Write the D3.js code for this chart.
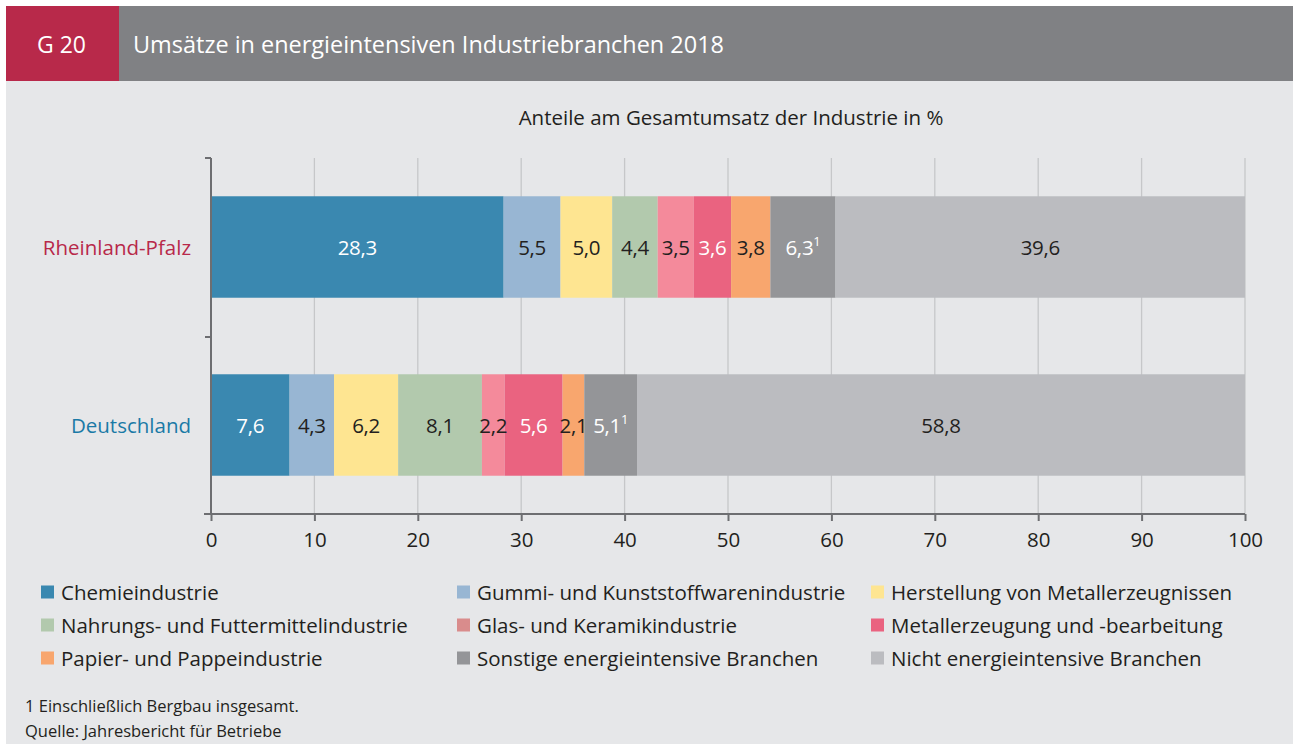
<!DOCTYPE html>
<html>
<head>
<meta charset="utf-8">
<script src="https://cdn.jsdelivr.net/npm/d3@7"></script>
<style>
  body { margin: 0; background: #fff; }
  svg { display: block; font-family: "Open Sans", sans-serif; }
</style>
</head>
<body>
<div id="chart"></div>
<script>
// Branchen in Stapelreihenfolge
const branchen = [
    "Chemieindustrie",
    "Gummi- und Kunststoffwarenindustrie",
    "Herstellung von Metallerzeugnissen",
    "Nahrungs- und Futtermittelindustrie",
    "Glas- und Keramikindustrie",
    "Metallerzeugung und -bearbeitung",
    "Papier- und Pappeindustrie",
    "Sonstige energieintensive Branchen",
    "Nicht energieintensive Branchen"
];
const regionen = ["Rheinland-Pfalz", "Deutschland"];
const werteRLP = [28.3, 5.5, 5.0, 4.4, 3.5, 3.6, 3.8, 6.3, 39.6];
const werteDE = [7.6, 4.3, 6.2, 8.1, 2.2, 5.6, 2.1, 5.1, 58.8];
const farben = ["#3a88b0", "#98b6d3", "#fee591", "#b2c9ad", "#f48a9b", "#ea6380", "#f8a66e", "#949598", "#bbbcc0"];
const legendFarben = ["#3a88b0", "#98b6d3", "#fee591", "#b2c9ad", "#d98c8c", "#ea6380", "#f8a66e", "#949598", "#bbbcc0"];
const weisseSchrift = ["Chemieindustrie", "Metallerzeugung und -bearbeitung", "Sonstige energieintensive Branchen"];
const fussnoteBei = "Sonstige energieintensive Branchen";
const xTicks = [0, 10, 20, 30, 40, 50, 60, 70, 80, 90, 100];

const width = 1293, height = 744;
const svg = d3.select("#chart").append("svg")
    .attr("width", width)
    .attr("height", height);

// Hintergrund und Kopf
svg.append("rect").attr("x", 6).attr("y", 6).attr("width", width - 6).attr("height", height - 6).attr("fill", "#e6e7e9");
svg.append("rect").attr("x", 6).attr("y", 6).attr("width", 113).attr("height", 75).attr("fill", "#b8294a");
svg.append("rect").attr("x", 119).attr("y", 6).attr("width", width - 119).attr("height", 75).attr("fill", "#808184");
svg.append("text").attr("x", 37).attr("y", 53).attr("fill", "#fff")
    .attr("font-size", 23).attr("font-weight", 500).text("G 20");
svg.append("text").attr("x", 133).attr("y", 53).attr("fill", "#fff")
    .attr("font-size", 23.5).attr("font-weight", 500)
    .attr("textLength", 591).attr("lengthAdjust", "spacingAndGlyphs")
    .text("Umsätze in energieintensiven Industriebranchen 2018");

svg.append("text").attr("x", 731).attr("y", 125).attr("text-anchor", "middle")
    .attr("fill", "#231f20").attr("font-size", 20.5)
    .text("Anteile am Gesamtumsatz der Industrie in %");

// Skalen
const x = d3.scaleLinear().domain([0, 100]).range([211, 1245]);
const y = d3.scaleBand().domain(regionen).range([158, 514]).paddingInner(0.43).paddingOuter(0.215);

// Daten für d3.stack
const tabelle = regionen.map((r, i) => {
    const row = { region: r };
    const werte = i === 0 ? werteRLP : werteDE;
    branchen.forEach((b, j) => row[b] = werte[j]);
    return row;
});
const series = d3.stack().keys(branchen)(tabelle);

// Gitterlinien
svg.append("g")
    .selectAll("line")
    .data(xTicks.slice(1))
    .join("line")
    .attr("x1", d => x(d)).attr("x2", d => x(d))
    .attr("y1", 158).attr("y2", 514)
    .attr("stroke", "#c6c7c9").attr("stroke-width", 1.3);

// Balken
const g = svg.append("g");
series.forEach((s, i) => {
    g.selectAll(null)
        .data(s)
        .join("rect")
        .attr("x", d => x(d[0]))
        .attr("y", d => y(d.data.region))
        .attr("width", d => x(d[1]) - x(d[0]))
        .attr("height", y.bandwidth())
        .attr("fill", farben[i]);
});

// Beschriftungen in den Balken
series.forEach((s, i) => {
    const key = s.key;
    const t = g.selectAll(null)
        .data(s)
        .join("text")
        .attr("x", d => (x(d[0]) + x(d[1])) / 2)
        .attr("y", d => y(d.data.region) + y.bandwidth() / 2 + 7.5)
        .attr("text-anchor", "middle")
        .attr("font-size", 20.5)
        .attr("letter-spacing", -0.3)
        .attr("fill", weisseSchrift.includes(key) ? "#fff" : "#231f20");
    t.append("tspan").text(d => d3.format(".1f")(d[1] - d[0]).replace(".", ","));
    if (key === fussnoteBei) {
        t.append("tspan").attr("dy", -9).attr("font-size", 13).text("1");
    }
});

// Achsen
const xAxis = svg.append("g")
    .attr("transform", "translate(0,514)")
    .call(d3.axisBottom(x).tickValues(xTicks).tickSize(7).tickPadding(11).tickFormat(d3.format("d")));
xAxis.select(".domain").remove();
xAxis.selectAll("line").attr("stroke", "#6d6e71").attr("stroke-width", 2);
xAxis.selectAll("text").attr("font-size", 20.5).attr("fill", "#231f20").attr("font-family", "Open Sans, sans-serif");
svg.append("line").attr("x1", 204).attr("x2", 1245).attr("y1", 514).attr("y2", 514)
    .attr("stroke", "#6d6e71").attr("stroke-width", 2);

svg.append("line").attr("x1", 211).attr("x2", 211).attr("y1", 158).attr("y2", 514)
    .attr("stroke", "#6d6e71").attr("stroke-width", 2);
svg.append("g")
    .selectAll("line")
    .data([158, 337])
    .join("line")
    .attr("x1", 205).attr("x2", 211)
    .attr("y1", d => d).attr("y2", d => d)
    .attr("stroke", "#6d6e71").attr("stroke-width", 2);

// Regionsnamen
svg.append("g")
    .selectAll("text")
    .data(regionen)
    .join("text")
    .attr("x", 191)
    .attr("y", d => y(d) + y.bandwidth() / 2 + 7.5)
    .attr("text-anchor", "end")
    .attr("font-size", 20.5)
    .attr("fill", d => d === "Rheinland-Pfalz" ? "#b8294a" : "#1a7aa6")
    .text(d => d);

// Legende
const legendX = [41, 457, 871];
const legend = svg.append("g")
    .selectAll("g")
    .data(branchen)
    .join("g")
    .attr("transform", (d, i) => `translate(${legendX[i % 3]},${592 + Math.floor(i / 3) * 33})`);
legend.append("rect")
    .attr("x", 0).attr("y", -6.5)
    .attr("width", 13).attr("height", 13)
    .attr("fill", (d, i) => legendFarben[i]);
legend.append("text")
    .attr("x", 20).attr("y", 7.5)
    .attr("font-size", 20.5)
    .attr("fill", "#231f20")
    .text(d => d);

// Fußnoten
svg.append("text").attr("x", 25).attr("y", 712).attr("font-size", 16.5).attr("fill", "#231f20")
    .text("1 Einschließlich Bergbau insgesamt.");
svg.append("text").attr("x", 25).attr("y", 737).attr("font-size", 16.5).attr("fill", "#231f20")
    .text("Quelle: Jahresbericht für Betriebe");
</script>
</body>
</html>
